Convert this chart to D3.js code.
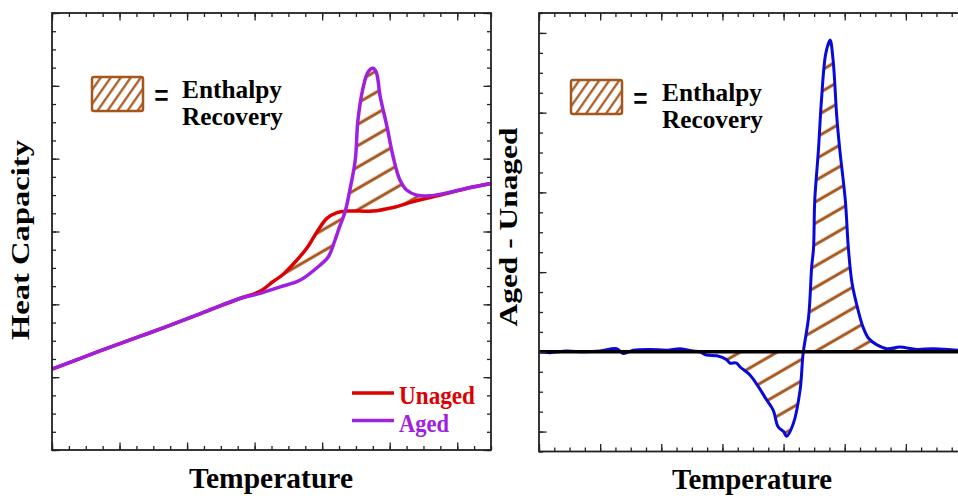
<!DOCTYPE html>
<html>

<head>
    <title>Enthalpy Recovery</title>
    <script src="https://d3js.org/d3.v7.min.js"></script>
    <style>
        body { margin: 0; background: white; }
        text { font-family: "Liberation Serif", "Times New Roman", serif; font-weight: bold; }
    </style>
</head>

<body>
    <script>
        // Left panel: heat capacity curves (arbitrary units)
        const tempUnaged = [0, 0.71, 1.45, 2.19, 2.78, 3.08, 3.27, 3.42, 3.57, 3.78, 3.92, 4.07, 4.22, 4.37, 4.56, 4.75, 5.05, 5.35, 5.75, 6.23, 6.50];
        const cpUnaged = [1.11, 1.36, 1.61, 1.87, 2.08, 2.18, 2.31, 2.41, 2.55, 2.78, 2.99, 3.18, 3.26, 3.28, 3.28, 3.28, 3.33, 3.41, 3.50, 3.61, 3.66];

        const tempAged = [0, 0.71, 1.45, 2.19, 2.78, 3.08, 3.38, 3.67, 3.97, 4.09, 4.19, 4.26, 4.34, 4.41, 4.49, 4.53, 4.61, 4.68, 4.75, 4.80, 4.86, 4.96, 5.05, 5.15, 5.25, 5.40, 5.60, 5.84, 6.23, 6.50];
        const cpAged = [1.11, 1.36, 1.61, 1.87, 2.08, 2.15, 2.24, 2.33, 2.54, 2.65, 2.88, 3.07, 3.27, 3.57, 3.98, 4.53, 4.99, 5.19, 5.24, 5.19, 4.85, 4.44, 4.03, 3.71, 3.57, 3.50, 3.49, 3.53, 3.61, 3.66];

        // Right panel: difference curve (aged - unaged)
        const tempDiff = [0, 0.18, 0.45, 0.73, 1.00, 1.27, 1.38, 1.54, 1.82, 2.09, 2.31, 2.52, 2.63, 2.74, 2.91, 3.07, 3.12, 3.23, 3.29, 3.45, 3.59, 3.72, 3.83, 3.91, 4.00, 4.05, 4.16, 4.27, 4.32, 4.41, 4.46, 4.49, 4.51, 4.57, 4.62, 4.69, 4.76, 4.81, 4.87, 4.92, 5.01, 5.06, 5.12, 5.22, 5.30, 5.39, 5.52, 5.69, 5.90, 6.18, 6.45, 6.85, 7.00];
        const cpDiff = [0.00, -0.01, 0.01, 0.00, 0.01, 0.04, -0.02, 0.02, 0.03, 0.02, 0.04, 0.01, 0.00, -0.04, -0.05, -0.10, -0.14, -0.14, -0.19, -0.29, -0.44, -0.60, -0.73, -0.94, -1.00, -1.06, -0.90, -0.48, -0.02, 0.44, 1.07, 1.30, 1.90, 2.53, 3.16, 3.74, 3.91, 3.66, 2.95, 2.53, 1.90, 1.30, 0.86, 0.52, 0.31, 0.17, 0.09, 0.04, 0.06, 0.03, 0.04, 0.02, 0.02];

        const seriesNames = ["Unaged", "Aged"];
        const seriesColors = ["#dd0000", "#a020e0"];
        const hatchColor = "#a5561c";

        const W = 958, H = 496;
        const svg = d3.select("body").append("svg")
            .attr("width", W)
            .attr("height", H);

        const defs = svg.append("defs");
        // hatch used inside the plots
        defs.append("pattern")
            .attr("id", "hatch")
            .attr("patternUnits", "userSpaceOnUse")
            .attr("width", 10).attr("height", 18.5)
            .attr("patternTransform", "rotate(-30)")
            .append("line")
            .attr("x1", 0).attr("x2", 10).attr("y1", 9).attr("y2", 9)
            .attr("stroke", hatchColor).attr("stroke-width", 3);
        // tighter, steeper hatch for the legend swatch
        defs.append("pattern")
            .attr("id", "hatchSmall")
            .attr("patternUnits", "userSpaceOnUse")
            .attr("width", 6).attr("height", 8.2)
            .attr("patternTransform", "rotate(-55)")
            .append("line")
            .attr("x1", 0).attr("x2", 6).attr("y1", 4).attr("y2", 4)
            .attr("stroke", hatchColor).attr("stroke-width", 2.2);

        // draw the box with inward ticks on the requested sides
        function drawFrame(x, y, sides, xStep, yStep) {
            const [x0, x1] = x.range();
            const [y1, y0] = y.range();
            const xd = x.domain(), yd = y.domain();
            const xMinor = d3.range(xd[0], xd[1] + 1e-9, xStep / 4);
            const xMajor = d3.range(xd[0], xd[1] + 1e-9, xStep);
            const yMinor = d3.range(yd[0], yd[1] + 1e-9, yStep / 4);
            const yMajor = d3.range(Math.ceil(yd[0]), yd[1] + 1e-9, yStep);

            const axesBySide = {
                bottom: [d3.axisBottom, x, `translate(0,${y1})`, xMinor, xMajor],
                top: [d3.axisTop, x, `translate(0,${y0})`, xMinor, xMajor],
                left: [d3.axisLeft, y, `translate(${x0},0)`, yMinor, yMajor],
                right: [d3.axisRight, y, `translate(${x1},0)`, yMinor, yMajor]
            };
            sides.forEach(s => {
                const [axisFn, sc, tr, minor, major] = axesBySide[s];
                [[minor, -4], [major, -7.5]].forEach(([vals, len]) => {
                    svg.append("g")
                        .attr("transform", tr)
                        .call(axisFn(sc).tickValues(vals).tickSize(len).tickFormat(""))
                        .call(g => g.select(".domain").remove())
                        .call(g => g.selectAll("line").attr("stroke", "#222").attr("stroke-width", 1.3));
                });
            });
            svg.append("rect")
                .attr("x", x0).attr("y", y0)
                .attr("width", x1 - x0).attr("height", y1 - y0)
                .attr("fill", "none")
                .attr("stroke", "#222")
                .attr("stroke-width", 1.8);
        }

        function drawLegendSwatch(sx, sy, tx, ty) {
            svg.append("rect")
                .attr("x", sx).attr("y", sy)
                .attr("width", 51).attr("height", 34)
                .attr("rx", 2)
                .attr("fill", "url(#hatchSmall)")
                .attr("stroke", hatchColor)
                .attr("stroke-width", 2.5);
            svg.append("text")
                .attr("x", sx + 62).attr("y", sy + 32)
                .attr("font-size", 40)
                .attr("textLength", 15)
                .attr("lengthAdjust", "spacingAndGlyphs")
                .text("=");
            svg.append("text")
                .attr("x", tx).attr("y", ty)
                .attr("font-size", 25)
                .attr("textLength", 100)
                .attr("lengthAdjust", "spacingAndGlyphs")
                .text("Enthalpy");
            svg.append("text")
                .attr("x", tx).attr("y", ty + 27)
                .attr("font-size", 25)
                .attr("textLength", 101)
                .attr("lengthAdjust", "spacingAndGlyphs")
                .text("Recovery");
        }

        const curve = d3.curveCatmullRom.alpha(0.5);

        // ---------- left panel ----------
        const xL = d3.scaleLinear().domain([0, 6.5]).range([52, 491]);
        const yL = d3.scaleLinear().domain([0, 6]).range([450, 13]);

        const unaged = tempUnaged.map((t, i) => [t, cpUnaged[i]]);
        const aged = tempAged.map((t, i) => [t, cpAged[i]]);
        const lineL = d3.line().x(d => xL(d[0])).y(d => yL(d[1])).curve(curve);

        // region between the two curves
        const between = lineL(aged) + "L" + lineL(unaged.slice().reverse()).slice(1) + "Z";
        svg.append("path")
            .attr("d", between)
            .attr("fill", "url(#hatch)");

        [unaged, aged].forEach((pts, i) => {
            svg.append("path")
                .attr("d", lineL(pts))
                .attr("fill", "none")
                .attr("stroke", seriesColors[i])
                .attr("stroke-width", 3.5)
                .attr("stroke-linejoin", "round");
        });

        drawFrame(xL, yL, ["bottom", "top", "left", "right"], 1, 1);

        // series legend
        seriesNames.forEach((name, i) => {
            const yy = 393 + i * 27.5;
            svg.append("line")
                .attr("x1", 352).attr("x2", 394)
                .attr("y1", yy).attr("y2", yy)
                .attr("stroke", seriesColors[i])
                .attr("stroke-width", 3.5);
            svg.append("text")
                .attr("x", 399).attr("y", yy + 11)
                .attr("font-size", 26)
                .attr("textLength", i === 0 ? 76 : 50)
                .attr("lengthAdjust", "spacingAndGlyphs")
                .attr("fill", seriesColors[i])
                .text(name);
        });

        drawLegendSwatch(92, 77, 182, 98);

        svg.append("text")
            .attr("x", 271).attr("y", 488)
            .attr("text-anchor", "middle")
            .attr("font-size", 29)
            .attr("textLength", 164)
            .attr("lengthAdjust", "spacingAndGlyphs")
            .text("Temperature");
        svg.append("text")
            .attr("transform", "translate(29,240) rotate(-90)")
            .attr("text-anchor", "middle")
            .attr("font-size", 26)
            .attr("textLength", 200)
            .attr("lengthAdjust", "spacingAndGlyphs")
            .text("Heat Capacity");

        // ---------- right panel ----------
        const xR = d3.scaleLinear().domain([0, 7]).range([539, 967]);
        const yR = d3.scaleLinear().domain([-1.25, 4.25]).range([451.5, 13]);

        const diff = tempDiff.map((t, i) => [t, cpDiff[i]]);
        const areaR = d3.area().x(d => xR(d[0])).y0(yR(0)).y1(d => yR(d[1])).curve(curve);
        svg.append("path")
            .attr("d", areaR(diff))
            .attr("fill", "url(#hatch)");

        svg.append("path")
            .attr("d", d3.line().x(d => xR(d[0])).y(d => yR(d[1])).curve(curve)(diff))
            .attr("fill", "none")
            .attr("stroke", "#0a0ad8")
            .attr("stroke-width", 3)
            .attr("stroke-linejoin", "round");

        svg.append("line")
            .attr("x1", xR(0)).attr("x2", xR(7))
            .attr("y1", yR(0)).attr("y2", yR(0))
            .attr("stroke", "black")
            .attr("stroke-width", 3.5);

        drawFrame(xR, yR, ["bottom", "top", "left"], 1, 1);

        drawLegendSwatch(571, 80, 662, 101);

        svg.append("text")
            .attr("x", 752).attr("y", 489)
            .attr("text-anchor", "middle")
            .attr("font-size", 29)
            .attr("textLength", 160)
            .attr("lengthAdjust", "spacingAndGlyphs")
            .text("Temperature");
        svg.append("text")
            .attr("transform", "translate(517,227) rotate(-90)")
            .attr("text-anchor", "middle")
            .attr("font-size", 26)
            .attr("textLength", 199)
            .attr("lengthAdjust", "spacingAndGlyphs")
            .text("Aged - Unaged");
    </script>
</body>

</html>
